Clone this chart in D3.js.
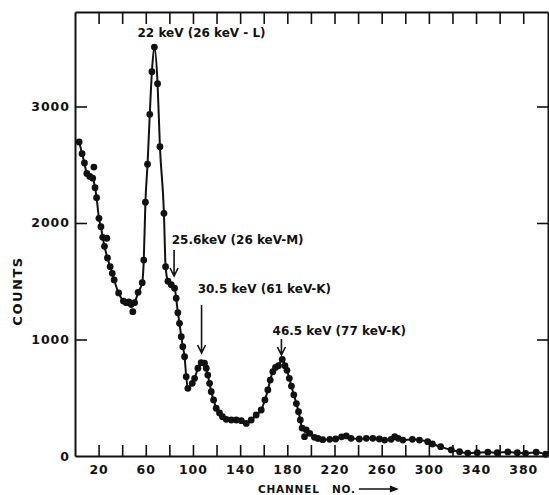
<html>
<head>
  <style>
    body { margin: 0; background: #fff; }
    svg text {
      font-family: "DejaVu Sans", sans-serif;
      font-weight: bold;
      fill: #111;
    }
    svg .domain { stroke: #111; stroke-width: 2px; }
    svg .tick line { stroke: #111; stroke-width: 1.6px; }
    svg .tick text { font-size: 12.5px; letter-spacing: 1px; }
    svg .curve { stroke: #111; stroke-width: 2px; fill: none; stroke-linejoin: round; }
    svg .dot { fill: #111; }
    svg .arrow { stroke: #111; stroke-width: 1.6px; fill: none; }
    svg .note { font-size: 12px; }
  </style>
</head>

<body>
  <div id="chart"></div>
  <script src="https://d3js.org/d3.v7.min.js"></script>
  <script>
  // points on the drawn curve (channel, counts)
  var channels = [3.5, 6, 8, 10, 12.5, 15, 17, 18.3, 20.3, 22, 23.5, 25, 27.5, 29.8, 31.6, 33.2,
    37, 41, 43.5, 45.7, 47.7, 50.5, 53.5, 57, 58.3, 59.7, 61.5, 63.4, 65.2, 67.3, 70, 72,
    75.4, 76.8, 78.8, 81.6, 84.4, 85.8, 87.2, 88.6, 90.1, 91.4, 92.9, 94.3, 95.7, 99.4,
    101.4, 104.2, 107, 109.8, 111.3, 112.6, 114.1, 115.5, 117.5, 119.7, 122.5, 125, 128.2,
    132.5, 136.7, 141, 145.2, 149.4, 153.6, 157.9, 161, 163.5, 165.5, 167.7, 170, 172.5,
    175.7, 178, 179.7, 181.7, 183.5, 185.5, 187.7, 189.5, 191, 192.5, 196, 199, 203, 206,
    210, 216, 221, 226, 230, 234, 241, 247, 252.5, 258, 262.5, 268, 271, 274, 278, 286,
    292, 299, 303, 310, 319, 326, 333, 341, 350, 358, 367, 375, 382, 391, 399];
  var counts = [2695, 2595, 2515, 2425, 2400, 2385, 2303, 2217, 2040, 1968, 1877, 1800, 1700, 1625, 1568, 1511,
    1400, 1330, 1316, 1322, 1300, 1316, 1405, 1488, 1682, 2178, 2504, 2933, 3299, 3510, 3195, 2655,
    2083, 1625, 1500, 1470, 1440, 1354, 1230, 1139, 1024, 938, 852, 681, 581, 624,
    667, 753, 801, 796, 753, 695, 624, 552, 481, 410, 370, 337, 315,
    309, 309, 303, 280, 309, 352, 395, 481, 567, 652, 724, 760, 775,
    830, 775, 735, 667, 600, 525, 450, 380, 309, 240, 225, 195, 160, 150,
    140, 143, 146, 165, 172, 152, 146, 152, 152, 146, 137, 143, 166, 152, 137, 143,
    137, 123, 103, 80, 52, 37, 25, 28, 33, 28, 35, 28, 23, 32, 15];

  // measured points lying off the curve
  var strayChannels = [16, 27, 49, 194.6];
  var strayCounts = [2480, 1869, 1239, 166];

  var xTicks = d3.range(20, 400, 20);
  var xTickLabels = [20, 60, 100, 140, 180, 220, 260, 300, 340, 380];
  var yTicks = [0, 1000, 2000, 3000];

  // peak notes: label anchor and arrow (channel, counts)
  var noteTexts = ["22 keV (26 keV - L)", "25.6keV (26 keV-M)", "30.5 keV (61 keV-K)", "46.5 keV (77 keV-K)"];
  var noteChannels = [53, 82, 104, 167.5];
  var noteCounts = [3597, 1820, 1399, 1039];
  var arrowChannels = [null, 84, 107.3, 175];
  var arrowFrom = [null, 1768, 1296, 1004];
  var arrowTo = [null, 1545, 884, 867];

  var W = 549, H = 495;

  var svg = d3.select("#chart")
    .append("svg")
      .attr("width", W)
      .attr("height", H);

  var xScale = d3.scaleLinear().domain([0, 401]).range([75, 548]);
  var yScale = d3.scaleLinear().domain([0, 3811]).range([456, 12]);

  // bottom axis
  svg.append("g")
      .attr("transform", "translate(0," + yScale(0) + ")")
      .call(d3.axisBottom(xScale)
        .tickValues(xTicks)
        .tickSizeInner(-11)
        .tickSizeOuter(0)
        .tickPadding(9)
        .tickFormat(function (d) { return xTickLabels.indexOf(d) >= 0 ? d : ""; }));

  // top axis
  svg.append("g")
      .attr("transform", "translate(0," + yScale(3811) + ")")
      .call(d3.axisTop(xScale)
        .tickValues(xTicks)
        .tickSizeInner(-12)
        .tickSizeOuter(0)
        .tickFormat(""));

  // left axis
  svg.append("g")
      .attr("transform", "translate(" + xScale(0) + ",0)")
      .call(d3.axisLeft(yScale)
        .tickValues(yTicks)
        .tickSizeInner(-12)
        .tickSizeOuter(0)
        .tickPadding(5)
        .tickFormat(d3.format("d")));

  // right axis
  svg.append("g")
      .attr("transform", "translate(" + xScale(401) + ",0)")
      .call(d3.axisRight(yScale)
        .tickValues(yTicks)
        .tickSizeInner(-11)
        .tickSizeOuter(0)
        .tickFormat(""));

  svg.selectAll(".tick text").style("fill", "#111");
  svg.selectAll(".tick line").filter(function (d) { return d === 0; }).remove();

  // curve + dots
  var pts = channels.map(function (c, i) { return [c, counts[i]]; });
  var line = d3.line()
    .x(function (d) { return xScale(d[0]); })
    .y(function (d) { return yScale(d[1]); })
    .curve(d3.curveMonotoneX);

  svg.append("path")
    .classed("curve", true)
    .attr("d", line(pts));

  svg.selectAll(".dot.on")
    .data(pts)
    .enter().append("circle")
      .attr("class", "dot on")
      .attr("cx", function (d) { return xScale(d[0]); })
      .attr("cy", function (d) { return yScale(d[1]); })
      .attr("r", 3.4);

  var strays = strayChannels.map(function (c, i) { return [c, strayCounts[i]]; });
  svg.selectAll(".dot.off")
    .data(strays)
    .enter().append("circle")
      .attr("class", "dot off")
      .attr("cx", function (d) { return xScale(d[0]); })
      .attr("cy", function (d) { return yScale(d[1]); })
      .attr("r", 3.4);

  // peak notes
  noteTexts.forEach(function (t, i) {
    svg.append("text")
      .classed("note", true)
      .attr("x", xScale(noteChannels[i]))
      .attr("y", yScale(noteCounts[i]))
      .text(t);

    if (arrowChannels[i] === null) return;
    var ax = xScale(arrowChannels[i]),
        y1 = yScale(arrowFrom[i]),
        y2 = yScale(arrowTo[i]);
    svg.append("path")
      .classed("arrow", true)
      .attr("d", "M" + ax + "," + y1 + "V" + y2 +
        "M" + (ax - 4) + "," + (y2 - 8) + "L" + ax + "," + y2 + "L" + (ax + 4) + "," + (y2 - 8));
  });

  // axis titles
  svg.append("text")
    .attr("transform", "translate(22,291) rotate(-90)")
    .style("text-anchor", "middle")
    .style("font-size", "13px")
    .style("letter-spacing", "1.5px")
    .text("COUNTS");

  svg.append("text")
    .attr("x", 258)
    .attr("y", 493)
    .style("font-size", "10.5px")
    .style("letter-spacing", "0.8px")
    .text("CHANNEL");
  var no = svg.append("text")
    .attr("x", 332)
    .attr("y", 493)
    .style("font-size", "10.5px")
    .style("letter-spacing", "0.8px")
    .text("NO.");

  var tEnd = 332 + no.node().getComputedTextLength() + 3;
  svg.append("path")
    .attr("d", "M" + tEnd + ",489H" + (tEnd + 34))
    .style("stroke", "#111")
    .style("stroke-width", "1.6px");
  svg.append("path")
    .attr("d", "M" + (tEnd + 40) + ",489L" + (tEnd + 31) + ",485.5L" + (tEnd + 31) + ",492.5Z")
    .style("fill", "#111");
  </script>
</body>
</html>
